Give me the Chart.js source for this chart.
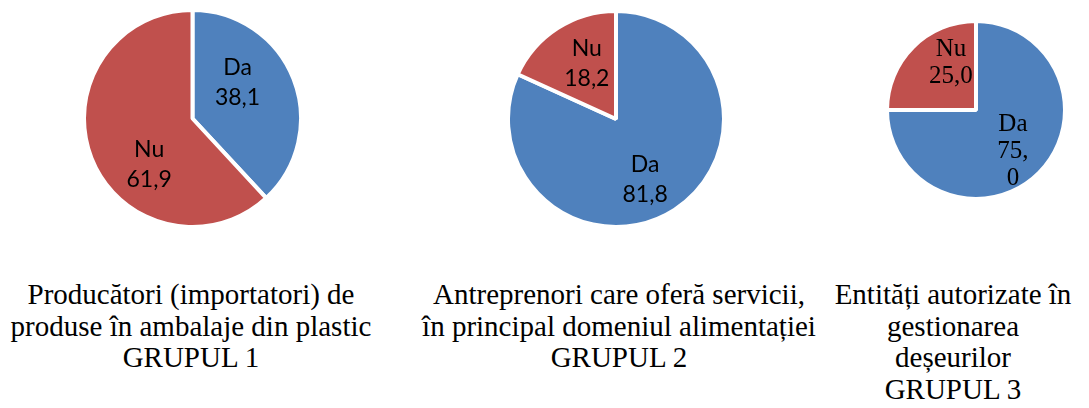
<!DOCTYPE html>
<html>
<head>
<meta charset="utf-8">
<script src="https://cdn.jsdelivr.net/npm/chart.js@4/dist/chart.umd.min.js"></script>
<style>
  html, body { margin: 0; padding: 0; background: #fff; }
  body { width: 1089px; height: 408px; position: relative; overflow: hidden; }
  canvas { position: absolute; }
  .caption {
    position: absolute;
    width: 420px;
    text-align: center;
    font-family: "Liberation Serif", "Times New Roman", serif;
    font-size: 29px;
    line-height: 31.5px;
    color: #000;
    white-space: nowrap;
  }
</style>
</head>
<body>
<canvas id="pie-grupul-1" width="221" height="221" style="left:82px;top:8px"></canvas>
<canvas id="pie-grupul-2" width="220" height="220" style="left:506px;top:9px"></canvas>
<canvas id="pie-grupul-3" width="182" height="182" style="left:885px;top:19px"></canvas>

<div class="caption" style="left:-19px;top:279px">Producători (importatori) de<br>produse în ambalaje din plastic<br>GRUPUL 1</div>
<div class="caption" style="left:409px;top:279px">Antreprenori care oferă servicii,<br>în principal domeniul alimentației<br>GRUPUL 2</div>
<div class="caption" style="left:743px;top:279px">Entități autorizate în<br>gestionarea<br>deșeurilor<br>GRUPUL 3</div>

<script>
/* ===================== DATA ===================== */

const ANSWERS = ["Da", "Nu"];

const GRUPUL_1 = [38.1, 61.9];
const GRUPUL_2 = [81.8, 18.2];
const GRUPUL_3 = [75.0, 25.0];

/* ===================== COLORS ===================== */

const SLICE_COLORS = [
  "#4F81BD", // Da - blue
  "#C0504D", // Nu - red
];

/* ===================== SLICE LABELS ===================== */

// one plugin per chart so each keeps its own label settings
// draws "category / value" inside each slice (like Excel data labels)
function makeSliceLabels(opts) {
  return {
    id: "sliceLabels",
    afterDatasetsDraw(chart) {
      const ctx = chart.ctx;
      const meta = chart.getDatasetMeta(0);
      const values = chart.data.datasets[0].data;

      ctx.save();
      ctx.fillStyle = "#000";
      ctx.font = `${opts.size}px ${opts.family}`;
      ctx.textAlign = "center";
      ctx.textBaseline = "middle";

      meta.data.forEach((arc, i) => {
        const p = arc.getProps(["x", "y", "startAngle", "endAngle", "outerRadius"], true);
        const mid = (p.startAngle + p.endAngle) / 2 + (opts.angleShift[i] || 0) * Math.PI / 180;
        const r = p.outerRadius * opts.radius[i];
        const cx = p.x + Math.cos(mid) * r;
        const cy = p.y + Math.sin(mid) * r;

        const valueText = values[i].toFixed(1).replace(".", ",");
        let lines = [chart.data.labels[i], valueText];
        if (opts.breakAfterComma && opts.breakAfterComma[i]) {
          const parts = valueText.split(",");
          lines = [chart.data.labels[i], parts[0] + ",", parts[1]];
        }

        const top = cy - (lines.length - 1) * opts.lineHeight / 2;
        lines.forEach((line, k) => ctx.fillText(line, cx, top + k * opts.lineHeight));
      });

      ctx.restore();
    },
  };
}

/* ===================== CHART BUILDER ===================== */

function buildPie(canvasId, values, labelOpts) {
  const canvas = document.getElementById(canvasId);
  if (!canvas || !window.Chart) return null;

  return new Chart(canvas, {
    type: "pie",
    data: {
      labels: ANSWERS,
      datasets: [
        {
          data: values,
          backgroundColor: SLICE_COLORS,
          borderColor: "#ffffff",
          borderWidth: 4,
        },
      ],
    },
    options: {
      responsive: false,
      animation: false,
      events: [],
      rotation: 0,
      layout: { padding: 0 },
      plugins: {
        legend: { display: false },
        tooltip: { enabled: false },
      },
    },
    plugins: [makeSliceLabels(labelOpts)],
  });
}

/* ===================== INIT ===================== */

buildPie("pie-grupul-1", GRUPUL_1, {
  family: "Lato, 'Open Sans', sans-serif",
  size: 23,
  lineHeight: 30,
  angleShift: [-17, -25],
  radius: [0.53, 0.58],
});

buildPie("pie-grupul-2", GRUPUL_2, {
  family: "Lato, 'Open Sans', sans-serif",
  size: 23,
  lineHeight: 30,
  angleShift: [7, 5],
  radius: [0.62, 0.58],
});

buildPie("pie-grupul-3", GRUPUL_3, {
  family: "'Liberation Serif', 'Times New Roman', serif",
  size: 25,
  lineHeight: 27,
  angleShift: [3, 17],
  radius: [0.62, 0.6],
  breakAfterComma: [true, false],
});
</script>
</body>
</html>
